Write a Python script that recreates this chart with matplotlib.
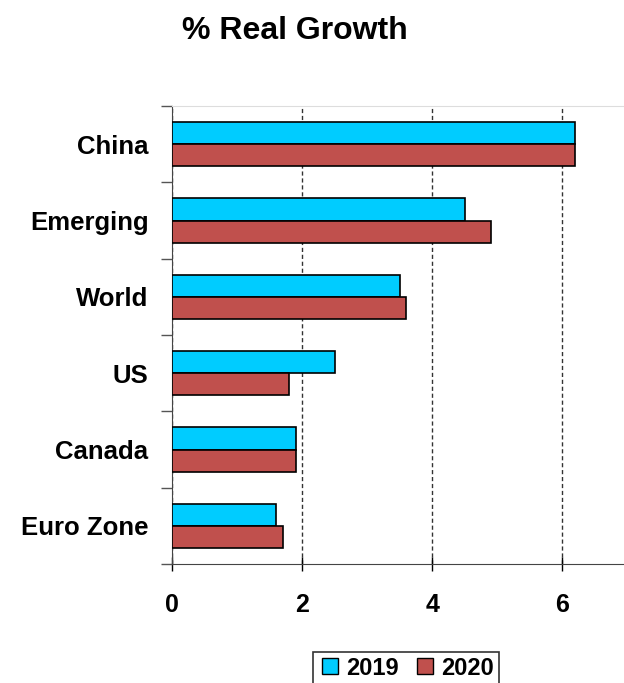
import numpy as np
import matplotlib.pyplot as plt
from matplotlib.lines import Line2D

categories = ['China', 'Emerging', 'World', 'US', 'Canada', 'Euro Zone']
growth_2019 = [6.2, 4.5, 3.5, 2.5, 1.9, 1.6]
growth_2020 = [6.2, 4.9, 3.6, 1.8, 1.9, 1.7]
x_ticks = [0, 2, 4, 6]

plt.rcParams['font.family'] = ['Liberation Sans', 'DejaVu Sans']

fig = plt.figure(figsize=(6.24, 6.83), dpi=100)
ax = fig.add_axes([172 / 624, 1 - 564 / 683, 1 - 172 / 624, (564 - 106) / 683])

y = np.arange(len(categories))
h = 0.29
ax.barh(y - h / 2, growth_2019, height=h, color='#00CCFF', edgecolor='black', linewidth=1.2, zorder=3)
ax.barh(y + h / 2, growth_2020, height=h, color='#C0504D', edgecolor='black', linewidth=1.2, zorder=3)

ax.set_xlim(0, 6.95)
ax.set_ylim(len(categories) - 0.5, -0.5)

ax.set_xticks(x_ticks)
ax.set_xticklabels([str(v) for v in x_ticks], fontsize=18, fontweight='bold')
ax.tick_params(axis='x', direction='inout', length=10, width=1, pad=16)
ax.grid(axis='x', linestyle=(0, (3, 2)), color='#333333', linewidth=1, zorder=1)

ax.set_yticks(y)
ax.set_yticklabels(categories, fontsize=18.5, fontweight='bold')
ax.tick_params(axis='y', length=0, pad=17)
ax.set_yticks(np.arange(-0.5, len(categories) + 0.5), minor=True)
ax.tick_params(axis='y', which='minor', length=8, width=1, color='#555555')

ax.spines['right'].set_visible(False)
ax.spines['top'].set_color('#dddddd')
ax.spines['left'].set_color('#444444')
ax.spines['bottom'].set_color('#444444')

fig.text(295 / 624, 1 - 31 / 683, '% Real Growth', fontsize=23, fontweight='bold', ha='center', va='center')

handles = [Line2D([], [], marker='s', linestyle='none', markersize=11, markerfacecolor='#00CCFF', markeredgecolor='black'),
           Line2D([], [], marker='s', linestyle='none', markersize=11, markerfacecolor='#C0504D', markeredgecolor='black')]
leg = fig.legend(handles, ['2019', '2020'], loc='upper center', bbox_to_anchor=(406 / 624, 1 - 640 / 683),
                 ncol=2, frameon=True, fancybox=False, edgecolor='black', handletextpad=0.2, columnspacing=0.6,
                 handlelength=1.0, borderpad=0.2, prop={'size': 17, 'weight': 'bold'})
leg.get_frame().set_linewidth(1.2)

fig.savefig('out.png', dpi=100)
